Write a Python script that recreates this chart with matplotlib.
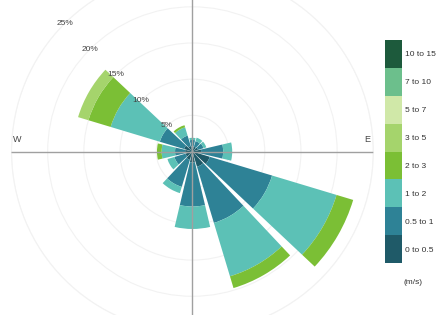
import numpy as np
import matplotlib
matplotlib.use('Agg')
import matplotlib.pyplot as plt

plt.rcParams['font.family'] = ['Liberation Sans', 'DejaVu Sans']

# wind rose data: frequency (%) per direction for each speed bin
directions = [0, 30, 60, 90, 120, 150, 180, 210, 240, 270, 300, 330]
speed_bins = ['0 to 0.5', '0.5 to 1', '1 to 2', '2 to 3', '3 to 5', '5 to 7', '7 to 10', '10 to 15']
colors = ['#1f5a68', '#2e8296', '#5cc1b6', '#7bbf35', '#a5d46c', '#d0e8a8', '#6cbf8c', '#1d5a3c']

f_0_05 = [0.7, 0.7, 0.8, 1.2, 2.5, 2.2, 1.5, 1.2, 1.0, 1.0, 1.2, 0.8]
f_05_1 = [0.9, 0.8, 0.8, 3.05, 9.0, 8.1, 6.1, 3.9, 1.6, 1.4, 3.5, 1.5]
f_1_2 = [0.3, 0.5, 0.4, 1.25, 9.3, 7.7, 3.1, 0.9, 1.0, 1.85, 7.1, 1.2]
f_2_3 = [0, 0, 0, 0, 2.4, 1.7, 0, 0, 0, 0.65, 3.2, 0.3]
f_3_5 = [0, 0, 0, 0, 0, 0, 0, 0, 0, 0, 1.5, 0]
f_5_7 = [0] * 12
f_7_10 = [0] * 12
f_10_15 = [0] * 12
series = [f_0_05, f_05_1, f_1_2, f_2_3, f_3_5, f_5_7, f_7_10, f_10_15]

ring_ticks = [5, 10, 15, 20, 25]

fig = plt.figure(figsize=(4.37, 3.15), dpi=100)
ax = fig.add_axes([0.0263, -0.0556, 0.828, 1.149], projection='polar')
ax.set_theta_zero_location('N')
ax.set_theta_direction(-1)

theta = np.deg2rad(directions)
width = np.deg2rad(26.5)
bottom = np.zeros(len(directions))
for vals, c in zip(series, colors):
    vals = np.array(vals)
    ax.bar(theta, vals, width=width, bottom=bottom, color=c, edgecolor='none', zorder=2)
    bottom += vals

ax.set_ylim(0, 25)
ax.set_yticks(ring_ticks)
ax.set_yticklabels([])
ax.set_xticks([])
ax.grid(True, color='#f2f2f2', lw=0.8)
ax.set_axisbelow(True)
ax.spines['polar'].set_color('#f2f2f2')
ax.spines['polar'].set_linewidth(0.8)

# cross lines on top of the bars
for a in [0, 90, 180, 270]:
    ax.plot([np.deg2rad(a), np.deg2rad(a)], [0, 25], color='#a0a0a0', lw=1.0, zorder=5)

for r in ring_ticks:
    ax.text(np.deg2rad(315), r, f'{r}%', fontsize=6, color='#444444', ha='center', va='center', zorder=6)

ax.text(np.deg2rad(273.8), 24.2, 'W', fontsize=6.5, color='#444444', ha='center', va='center')
ax.text(np.deg2rad(86.1), 24.2, 'E', fontsize=6.5, color='#444444', ha='center', va='center')

# legend as a stacked color strip
lax = fig.add_axes([385 / 437, 1 - 263 / 315, 17 / 437, 223 / 315])
for i, c in enumerate(colors):
    lax.bar(0, 1, bottom=i, width=1, color=c, edgecolor='none')
lax.set_xlim(-0.5, 0.5)
lax.set_ylim(0, len(colors))
lax.set_xticks([])
lax.set_yticks(np.arange(len(colors)) + 0.5)
lax.set_yticklabels(speed_bins, fontsize=6, color='#333333')
lax.yaxis.tick_right()
lax.tick_params(axis='y', length=0, pad=2)
for s in lax.spines.values():
    s.set_visible(False)
fig.text(403 / 437, 1 - 283 / 315, '(m/s)', fontsize=6, color='#333333', ha='left', va='center')

fig.savefig('out.png', dpi=100)
